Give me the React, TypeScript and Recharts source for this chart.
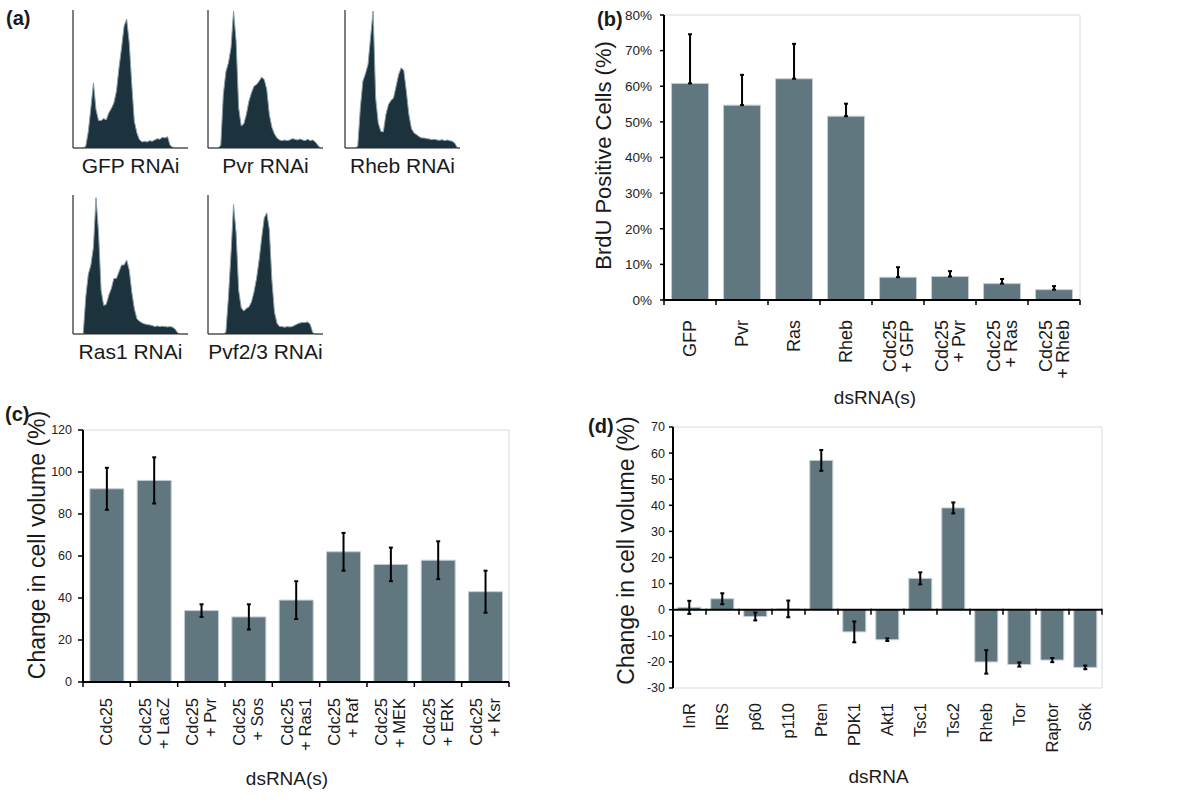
import React from 'react';
import {
  BarChart,
  Bar,
  XAxis,
  YAxis,
  ErrorBar,
  CartesianGrid,
  ReferenceLine,
  AreaChart,
  Area,
} from 'recharts';

const FONT = "'Liberation Sans', Arial, Helvetica, sans-serif";
const BAR_FILL = '#607780';
const BAR_EDGE = '#c3ced3';
const BORDER = '#d6dadc';
const INK = '#1a1a1a';
const HIST_FILL = '#1c323d';
const HIST_EDGE = '#8aa0a8';

// ---------- (a) DNA content histograms (counts per bin) ----------
const gfpCounts = [0, 0, 0, 0, 0, 5, 50, 120, 195, 115, 82, 82, 88, 84, 105, 118, 135, 170, 240, 300, 365, 386, 315, 190, 80, 45, 25, 18, 20, 18, 22, 20, 24, 28, 26, 32, 30, 34, 8, 2, 0, 0, 0, 0, 0, 0];
const pvrCounts = [0, 0, 0, 0, 0, 8, 160, 228, 255, 300, 410, 320, 120, 66, 72, 100, 140, 165, 185, 190, 200, 212, 205, 175, 100, 62, 42, 30, 24, 22, 24, 22, 24, 28, 26, 24, 27, 24, 22, 26, 22, 24, 18, 8, 0, 0];
const rhebCounts = [0, 0, 0, 0, 0, 5, 120, 200, 222, 250, 330, 410, 150, 75, 50, 48, 100, 130, 142, 150, 185, 220, 240, 232, 170, 100, 58, 45, 40, 34, 30, 30, 28, 27, 25, 26, 24, 23, 25, 22, 24, 22, 20, 14, 0, 0];
const ras1Counts = [0, 0, 0, 0, 0, 110, 178, 205, 258, 405, 300, 130, 85, 88, 115, 135, 165, 165, 185, 205, 205, 220, 190, 125, 75, 45, 38, 33, 30, 28, 27, 25, 22, 24, 22, 23, 22, 21, 22, 20, 14, 3, 0, 0, 0, 0];
const pvfCounts = [0, 0, 0, 0, 0, 0, 0, 5, 110, 240, 385, 300, 130, 78, 68, 76, 80, 95, 125, 165, 220, 285, 345, 360, 310, 160, 65, 32, 22, 22, 20, 22, 21, 22, 26, 30, 33, 34, 34, 36, 28, 4, 0, 0, 0, 0];
const histCaptions = ['GFP RNAi', 'Pvr RNAi', 'Rheb RNAi', 'Ras1 RNAi', 'Pvf2/3 RNAi'];
const histMax = 413;

// ---------- (b) BrdU positive cells ----------
const bCategories = ['GFP', 'Pvr', 'Ras', 'Rheb', 'Cdc25\n+ GFP', 'Cdc25\n+ Pvr', 'Cdc25\n+ Ras', 'Cdc25\n+ Rheb'];
const bValues = [60.8, 54.7, 62.1, 51.6, 6.4, 6.6, 4.6, 2.9];
const bErrorsUp = [13.8, 8.5, 9.8, 3.5, 2.8, 1.5, 1.3, 1.0];
const bTicks = [0, 10, 20, 30, 40, 50, 60, 70, 80];

// ---------- (c) change in cell volume, Ras pathway ----------
const cCategories = ['Cdc25', 'Cdc25\n+ LacZ', 'Cdc25\n+ Pvr', 'Cdc25\n+ Sos', 'Cdc25\n+ Ras1', 'Cdc25\n+ Raf', 'Cdc25\n+ MEK', 'Cdc25\n+ ERK', 'Cdc25\n+ Ksr'];
const cValues = [92, 96, 34, 31, 39, 62, 56, 58, 43];
const cErrors = [10, 11, 3, 6, 9, 9, 8, 9, 10];
const cTicks = [0, 20, 40, 60, 80, 100, 120];

// ---------- (d) change in cell volume, InR/Tor pathway ----------
const dCategories = ['InR', 'IRS', 'p60', 'p110', 'Pten', 'PDK1', 'Akt1', 'Tsc1', 'Tsc2', 'Rheb', 'Tor', 'Raptor', 'S6k'];
const dValues = [0.9, 4.2, -2.6, 0.3, 57.2, -8.5, -11.5, 12, 39, -20, -21, -19.3, -22.1];
const dErrors = [2.5, 2.1, 1.5, 3.2, 4, 4, 0.5, 2.3, 2.1, 4.5, 0.8, 0.8, 0.7];
const dTicks = [-30, -20, -10, 0, 10, 20, 30, 40, 50, 60, 70];

const bData = bCategories.map((name, i) => ({ name, v: bValues[i], e: [0, bErrorsUp[i]] }));
const cData = cCategories.map((name, i) => ({ name, v: cValues[i], e: cErrors[i] }));
const dData = dCategories.map((name, i) => ({ name, v: dValues[i], e: dErrors[i] }));

function CategoryTick(props: any) {
  const { x, y, payload, index, fontSize, gap, lineGap, band, count, marks } = props;
  const lines = String(payload.value).split('\n');
  const n = lines.length;
  const half = band / 2;
  const ty = y + gap;
  return (
    <g>
      {marks && (
        <line x1={x - half} x2={x - half} y1={y} y2={y + 5} stroke="#000" strokeWidth={1.5} />
      )}
      {marks && index === count - 1 && (
        <line x1={x + half} x2={x + half} y1={y} y2={y + 5} stroke="#000" strokeWidth={1.5} />
      )}
      <text
        transform={`rotate(-90, ${x}, ${ty})`}
        x={x}
        y={ty}
        textAnchor="end"
        fontSize={fontSize}
        fontFamily={FONT}
        fill={INK}
      >
        {lines.map((l, i) => (
          <tspan key={i} x={x} dy={i === 0 ? -((n - 1) / 2) * lineGap + 0.35 * fontSize : lineGap}>
            {l}
          </tspan>
        ))}
      </text>
    </g>
  );
}

const borderGenH = ({ offset }: any) => [offset.top];
const borderGenV = ({ offset }: any) => [offset.left + offset.width];

function Histogram({ counts, caption, left, top, plotHeight }: any) {
  const data = counts.map((c: number, i: number) => ({ bin: i, count: c }));
  const pad = 12;
  return (
    <div style={{ position: 'absolute', left: left - pad, top }}>
      <AreaChart width={115 + 2 * pad} height={plotHeight + 34} data={data} margin={{ top: 0, right: pad, left: pad - 2, bottom: 0 }}>
        <XAxis
          dataKey="bin"
          tick={false}
          tickLine={false}
          axisLine={{ stroke: '#2a2a2a', strokeWidth: 1 }}
          height={34}
          label={{ value: caption, position: 'insideBottom', offset: 9, style: { fontSize: 21, fill: INK, fontFamily: FONT } }}
        />
        <YAxis width={2} domain={[0, histMax]} tick={false} tickLine={false} axisLine={{ stroke: '#2a2a2a', strokeWidth: 1.2 }} />
        <Area
          type="linear"
          dataKey="count"
          stroke={HIST_EDGE}
          strokeWidth={1}
          fill={HIST_FILL}
          fillOpacity={1}
          dot={false}
          activeDot={false}
          isAnimationActive={false}
        />
      </AreaChart>
    </div>
  );
}

export default function App() {
  // panel (b) layout
  const bW = 610, bH = 440, bLeft = 74, bRight = 120;
  const bBand = (bW - bLeft - bRight) / bCategories.length;
  // panel (c) layout
  const cW = 590, cH = 404, cLeft = 83, cRight = 81;
  const cBand = (cW - cLeft - cRight) / cCategories.length;
  // panel (d) layout
  const dW = 610, dH = 404, dLeft = 83, dRight = 98;

  const tickStyle = { fill: '#222', fontFamily: FONT };

  return (
    <div style={{ position: 'absolute', left: 0, top: 0, width: 1200, height: 804, background: '#fff', fontFamily: FONT }}>
      <svg width={1200} height={804} style={{ position: 'absolute', left: 0, top: 0, pointerEvents: 'none' }}>
        <text x={6} y={25} fontWeight="bold" fontSize={20} fontFamily={FONT} fill={INK}>(a)</text>
        <text x={597} y={26} fontWeight="bold" fontSize={20} fontFamily={FONT} fill={INK}>(b)</text>
        <text x={5} y={421} fontWeight="bold" fontSize={20} fontFamily={FONT} fill={INK}>(c)</text>
        <text x={588} y={433} fontWeight="bold" fontSize={20} fontFamily={FONT} fill={INK}>(d)</text>
      </svg>

      {/* (a) */}
      <Histogram counts={gfpCounts} caption={histCaptions[0]} left={73} top={10} plotHeight={138} />
      <Histogram counts={pvrCounts} caption={histCaptions[1]} left={208} top={10} plotHeight={138} />
      <Histogram counts={rhebCounts} caption={histCaptions[2]} left={345} top={10} plotHeight={138} />
      <Histogram counts={ras1Counts} caption={histCaptions[3]} left={73} top={195} plotHeight={139} />
      <Histogram counts={pvfCounts} caption={histCaptions[4]} left={208} top={195} plotHeight={139} />

      {/* (b) */}
      <div style={{ position: 'absolute', left: 590, top: 0 }}>
        <BarChart width={bW} height={bH} data={bData} margin={{ top: 15, right: bRight, left: 0, bottom: 0 }} barCategoryGap="14.5%">
          <CartesianGrid stroke={BORDER} strokeWidth={1} horizontalCoordinatesGenerator={borderGenH} verticalCoordinatesGenerator={borderGenV} />
          <XAxis
            dataKey="name"
            interval={0}
            height={bH - 300}
            tickSize={0}
            tickMargin={0}
            tickLine={false}
            axisLine={{ stroke: '#000', strokeWidth: 2 }}
            tick={(p: any) => <CategoryTick {...p} fontSize={18} gap={20} lineGap={17} band={bBand} count={bCategories.length} marks />}
            label={{ value: 'dsRNA(s)', position: 'insideBottom', offset: 36, dx: 3, style: { fontSize: 19, fill: INK, fontFamily: FONT } }}
          />
          <YAxis
            width={bLeft}
            domain={[0, 80]}
            ticks={bTicks}
            interval={0}
            tickFormatter={(v: number) => `${v}%`}
            tick={{ ...tickStyle, fontSize: 13.5 }}
            tickSize={4}
            tickMargin={8}
            tickLine={{ stroke: '#000', strokeWidth: 1.5 }}
            axisLine={{ stroke: '#000', strokeWidth: 2 }}
            label={{ value: 'BrdU Positive Cells (%)', angle: -90, position: 'insideLeft', offset: 13, dy: -2, style: { textAnchor: 'middle', fontSize: 22, fill: INK, fontFamily: FONT } }}
          />
          <Bar dataKey="v" fill={BAR_FILL} stroke={BAR_EDGE} strokeWidth={1} isAnimationActive={false}>
            <ErrorBar dataKey="e" width={2} strokeWidth={2} stroke="#000" direction="y" isAnimationActive={false} />
          </Bar>
        </BarChart>
      </div>

      {/* (c) */}
      <div style={{ position: 'absolute', left: 0, top: 400 }}>
        <BarChart width={cW} height={cH} data={cData} margin={{ top: 30, right: cRight, left: 0, bottom: 0 }} barCategoryGap="14.5%">
          <CartesianGrid stroke={BORDER} strokeWidth={1} horizontalCoordinatesGenerator={borderGenH} verticalCoordinatesGenerator={borderGenV} />
          <XAxis
            dataKey="name"
            interval={0}
            height={cH - 282}
            tickSize={0}
            tickMargin={0}
            tickLine={false}
            axisLine={{ stroke: '#000', strokeWidth: 2 }}
            tick={(p: any) => <CategoryTick {...p} fontSize={16.5} gap={16} lineGap={18} band={cBand} count={cCategories.length} marks />}
            label={{ value: 'dsRNA(s)', position: 'insideBottom', offset: 19, dx: -9, style: { fontSize: 19, fill: INK, fontFamily: FONT } }}
          />
          <YAxis
            width={cLeft}
            domain={[0, 120]}
            ticks={cTicks}
            interval={0}
            tick={{ ...tickStyle, fontSize: 12.5 }}
            tickSize={5}
            tickMargin={6}
            tickLine={{ stroke: '#000', strokeWidth: 1.5 }}
            axisLine={{ stroke: '#000', strokeWidth: 2 }}
            label={{ value: 'Change in cell volume (%)', angle: -90, position: 'insideLeft', offset: 37, dy: -11, style: { textAnchor: 'middle', fontSize: 23, fill: INK, fontFamily: FONT } }}
          />
          <Bar dataKey="v" fill={BAR_FILL} stroke={BAR_EDGE} strokeWidth={1} isAnimationActive={false}>
            <ErrorBar dataKey="e" width={2} strokeWidth={2} stroke="#000" direction="y" isAnimationActive={false} />
          </Bar>
        </BarChart>
      </div>

      {/* (d) */}
      <div style={{ position: 'absolute', left: 590, top: 400 }}>
        <BarChart width={dW} height={dH} data={dData} margin={{ top: 27, right: dRight, left: 0, bottom: 0 }} barCategoryGap="14.5%">
          <CartesianGrid stroke={BORDER} strokeWidth={1} horizontalCoordinatesGenerator={borderGenH} verticalCoordinatesGenerator={borderGenV} />
          <XAxis
            dataKey="name"
            interval={0}
            height={116}
            tickSize={0}
            tickMargin={0}
            tickLine={false}
            axisLine={{ stroke: BORDER, strokeWidth: 1 }}
            tick={(p: any) => <CategoryTick {...p} fontSize={16.5} gap={15} lineGap={18} band={0} count={dCategories.length} marks={false} />}
            label={{ value: 'dsRNA', position: 'insideBottom', offset: 21, dx: -9, style: { fontSize: 19, fill: INK, fontFamily: FONT } }}
          />
          <YAxis
            width={dLeft}
            domain={[-30, 70]}
            ticks={dTicks}
            interval={0}
            tick={{ ...tickStyle, fontSize: 12.5 }}
            tickSize={4}
            tickMargin={4}
            tickLine={{ stroke: '#000', strokeWidth: 1.5 }}
            axisLine={{ stroke: '#000', strokeWidth: 2 }}
            label={{ value: 'Change in cell volume (%)', angle: -90, position: 'insideLeft', offset: 36, dy: -7, style: { textAnchor: 'middle', fontSize: 23, fill: INK, fontFamily: FONT } }}
          />
          <Bar dataKey="v" fill={BAR_FILL} stroke={BAR_EDGE} strokeWidth={1} isAnimationActive={false}>
            <ErrorBar dataKey="e" width={2} strokeWidth={2} stroke="#000" direction="y" isAnimationActive={false} />
          </Bar>
          <ReferenceLine
            y={0}
            stroke="#000"
            strokeWidth={2}
            shape={(p: any) => {
              const { x1, x2, y1 } = p;
              const n = dCategories.length;
              const step = (x2 - x1) / n;
              return (
                <g>
                  <line x1={x1} x2={x2} y1={y1} y2={y1} stroke="#000" strokeWidth={2} />
                  {Array.from({ length: n + 1 }, (_, i) => (
                    <line key={i} x1={x1 + i * step} x2={x1 + i * step} y1={y1 - 1} y2={y1 + 5} stroke="#000" strokeWidth={1.5} />
                  ))}
                </g>
              );
            }}
          />
        </BarChart>
      </div>
    </div>
  );
}
